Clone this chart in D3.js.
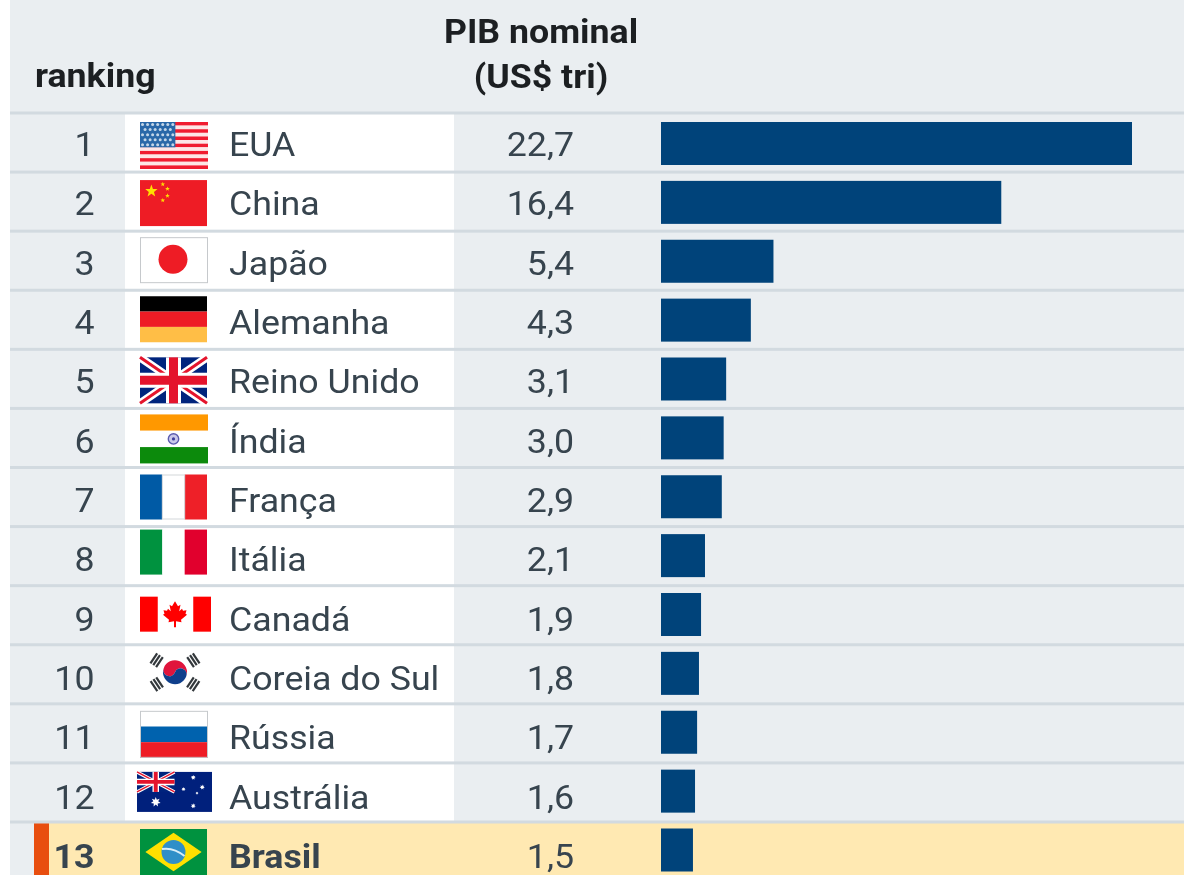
<!DOCTYPE html>
<html>
<head>
<meta charset="utf-8">
<style>
    html, body { margin: 0; padding: 0; background: #ffffff; overflow: hidden; }
    svg { display: block; filter: blur(0.45px); }
    text { font-family: Roboto, sans-serif; }
</style>
<script src="https://cdn.jsdelivr.net/npm/d3@7"></script>
</head>
<body>
<svg id="chart" width="1184" height="875"></svg>
<script>
const ranks = [1, 2, 3, 4, 5, 6, 7, 8, 9, 10, 11, 12, 13];
const countries = ['EUA', 'China', 'Japão', 'Alemanha', 'Reino Unido', 'Índia', 'França', 'Itália', 'Canadá', 'Coreia do Sul', 'Rússia', 'Austrália', 'Brasil'];
// second decimal, labels show one decimal
const gdp = [22.7, 16.4, 5.42, 4.33, 3.14, 3.02, 2.93, 2.12, 1.93, 1.83, 1.74, 1.64, 1.54];
const highlighted = 'Brasil';

const svg = d3.select('#chart');
const width = 1184, height = 875;

const colors = {
    panel: '#eaeef1',
    rule: '#d2dae0',
    bar: '#00437a',
    text: '#37444e',
    head: '#1c1f22',
    hiRow: '#ffe9b2',
    hiMark: '#e84e0f'
};

const rowY = d3.scaleLinear().domain([0, 12]).range([113, 822]);
const barY = d3.scaleLinear().domain([0, 12]).range([122, 828.5]);
const baseY = d3.scaleLinear().domain([0, 12]).range([156, 868]);
const x = d3.scaleLinear().domain([0, 22.7]).range([661, 1132]);
const fmt = v => v.toFixed(1).replace('.', ',');

// the reference is stretched a bit sideways
const rowStretch = 1.083, headStretch = 1.05;

// flag box: x, y offset from row line, width, height
const flagBox = {
    'EUA': [140, 9, 68, 47], 'China': [140, 8, 67, 46], 'Japão': [140, 6, 68, 46],
    'Alemanha': [140, 6, 67, 46], 'Reino Unido': [140, 8, 67, 46], 'Índia': [140, 6, 68, 49],
    'França': [140, 7, 67, 45], 'Itália': [140, 3, 67, 45], 'Canadá': [140, 11, 71, 35],
    'Coreia do Sul': [149, 8, 52, 39], 'Rússia': [140, 7, 68, 47], 'Austrália': [137, 9, 75, 40],
    'Brasil': [140, 7, 67, 46]
};

function starPoints(cx, cy, r, n = 5, inner = 0.42) {
    return d3.range(n * 2).map(i => {
        const a = -Math.PI / 2 + i * Math.PI / n;
        const q = i % 2 ? r * inner : r;
        return [cx + q * Math.cos(a), cy + q * Math.sin(a)].join(',');
    }).join(' ');
}

function rect(g, x0, y0, w, h, fill) {
    return g.append('rect').attr('x', x0).attr('y', y0).attr('width', w).attr('height', h).attr('fill', fill);
}

function bands(g, w, h, list, vertical) {
    list.forEach((c, i) => {
        if (vertical) rect(g, w * i / list.length, 0, w / list.length, h, c);
        else rect(g, 0, h * i / list.length, w, h / list.length, c);
    });
}

function union(g, w, h) {
    rect(g, 0, 0, w, h, '#00247d');
    const line = (x1, y1, x2, y2, c, sw) => g.append('line')
        .attr('x1', x1).attr('y1', y1).attr('x2', x2).attr('y2', y2)
        .attr('stroke', c).attr('stroke-width', sw);
    const k = h / 46;
    line(0, 0, w, h, '#fff', 8 * k);
    line(w, 0, 0, h, '#fff', 8 * k);
    line(0, 0, w, h, '#e4142c', 3 * k);
    line(w, 0, 0, h, '#e4142c', 3 * k);
    line(w / 2, 0, w / 2, h, '#fff', 15 * k);
    line(0, h / 2, w, h / 2, '#fff', 15 * k);
    line(w / 2, 0, w / 2, h, '#e4142c', 9 * k);
    line(0, h / 2, w, h / 2, '#e4142c', 9 * k);
}

const flags = {
    'EUA': (g, w, h) => {
        bands(g, w, h, d3.range(13).map(i => i % 2 ? '#fde6e6' : '#f01c30'));
        rect(g, 0, 0, w * 0.52, h * 7 / 13, '#2a68a8');
        d3.range(5).forEach(r => d3.range(r % 2 ? 6 : 7).forEach(c => {
            g.append('circle')
                .attr('cx', (c + (r % 2 ? 1 : 0.5)) * w * 0.52 / 7)
                .attr('cy', (r + 0.5) * (h * 7 / 13) / 5)
                .attr('r', 1.5).attr('fill', '#c3d6e8');
        }));
    },
    'China': (g, w, h) => {
        rect(g, 0, 0, w, h, '#ee1c25');
        g.append('polygon').attr('points', starPoints(w * 0.17, h * 0.24, 6.5)).attr('fill', '#ffde00');
        [[0.34, 0.09], [0.41, 0.19], [0.41, 0.34], [0.34, 0.44]].forEach(p => {
            g.append('polygon').attr('points', starPoints(w * p[0], h * p[1], 2.4)).attr('fill', '#ffde00');
        });
    },
    'Japão': (g, w, h) => {
        rect(g, 0.5, 0.5, w - 1, h - 1, '#fff').attr('stroke', '#c6c9cc').attr('stroke-width', 1);
        g.append('circle').attr('cx', w / 2 - 1).attr('cy', h / 2 - 1).attr('r', 14.5).attr('fill', '#ee1c25');
    },
    'Alemanha': (g, w, h) => bands(g, w, h, ['#000000', '#ee1c25', '#ffbe46']),
    'Reino Unido': union,
    'Índia': (g, w, h) => {
        bands(g, w, h, ['#ff9800', '#ffffff', '#0c8a0c']);
        g.append('circle').attr('cx', w / 2 - 0.5).attr('cy', h / 2).attr('r', 5.2)
            .attr('fill', '#c9c8ea').attr('stroke', '#5a5aae').attr('stroke-width', 1.4);
        g.append('circle').attr('cx', w / 2 - 0.5).attr('cy', h / 2).attr('r', 1.6).attr('fill', '#3f3f9c');
    },
    'França': (g, w, h) => {
        bands(g, w, h, ['#005aa5', '#ffffff', '#ee2028'], true);
        g.append('rect').attr('x', w / 3).attr('y', 0.5).attr('width', w / 3).attr('height', h - 1)
            .attr('fill', 'none').attr('stroke', '#d3d7da').attr('stroke-width', 1);
    },
    'Itália': (g, w, h) => bands(g, w, h, ['#00923f', '#ffffff', '#e1002d'], true),
    'Canadá': (g, w, h) => {
        rect(g, 0, 0, w, h, '#ffffff');
        rect(g, 0, 0, w * 0.25, h, '#ff0000');
        rect(g, w * 0.75, 0, w * 0.25, h, '#ff0000');
        const half = [[0, -13], [3, -8], [5.5, -9.5], [4.2, -3], [7, -5.5], [8, -3.5], [11.5, -4], [10.5, -0.5], [12, 0.5], [6, 5.5], [6.5, 8], [1, 7.2], [1, 13]];
        const pts = half.concat(half.slice().reverse().map(p => [-p[0], p[1]]));
        g.append('polygon')
            .attr('points', pts.map(p => [w / 2 - 0.5 + p[0], h / 2 + p[1]].join(',')).join(' '))
            .attr('fill', '#ff0000');
    },
    'Coreia do Sul': (g, w, h) => {
        const cx = w / 2, cy = h / 2, r = 12;
        const wave = `A${r / 2},${r / 2} 0 0 0 ${cx},${cy} A${r / 2},${r / 2} 0 0 1 ${cx - r},${cy}Z`;
        g.append('path')
            .attr('d', `M${cx - r},${cy} A${r},${r} 0 0 1 ${cx + r},${cy} ${wave}`)
            .attr('fill', '#e0143c')
            .attr('transform', `rotate(20 ${cx} ${cy})`);
        g.append('path')
            .attr('d', `M${cx - r},${cy} A${r},${r} 0 0 0 ${cx + r},${cy} ${wave}`)
            .attr('fill', '#0f3f8c')
            .attr('transform', `rotate(20 ${cx} ${cy})`);
        [[-1, -1, -56], [1, -1, 56], [-1, 1, 56], [1, 1, -56]].forEach(t => {
            const tg = g.append('g').attr('transform', `translate(${cx + t[0] * 18.3},${cy + t[1] * 12}) rotate(${t[2]})`);
            d3.range(3).forEach(i => rect(tg, -6, -4.6 + i * 3.4, 12, 2.2, '#33383c'));
        });
    },
    'Rússia': (g, w, h) => {
        bands(g, w, h, ['#ffffff', '#0062ae', '#ee1c25']);
        rect(g, 0.5, 0.5, w - 1, h - 1, 'none').attr('stroke', '#c6c9cc').attr('stroke-width', 1);
    },
    'Austrália': (g, w, h) => {
        rect(g, 0, 0, w, h, '#00207c');
        union(g.append('g'), w / 2, h / 2);
        g.append('polygon').attr('points', starPoints(w * 0.25, h * 0.75, 5, 7, 0.5)).attr('fill', '#fff');
        [[0.75, 0.14, 2.6], [0.62, 0.43, 2.2], [0.87, 0.38, 2.6], [0.8, 0.53, 1.6], [0.75, 0.85, 2.6]].forEach(p => {
            g.append('polygon').attr('points', starPoints(w * p[0], h * p[1], p[2], 7, 0.5)).attr('fill', '#fff');
        });
    },
    'Brasil': (g, w, h) => {
        rect(g, 0, 0, w, h, '#00923f');
        g.append('polygon')
            .attr('points', `${w * 0.08},${h / 2} ${w / 2},${h * 0.08} ${w * 0.92},${h / 2} ${w / 2},${h * 0.92}`)
            .attr('fill', '#ffe000');
        g.append('circle').attr('cx', w / 2).attr('cy', h / 2).attr('r', 12).attr('fill', '#2f8fc8');
        g.append('path').attr('d', `M${w / 2 - 11.5},${h / 2 - 3} Q${w / 2},${h / 2 - 5} ${w / 2 + 11},${h / 2 + 4}`)
            .attr('fill', 'none').attr('stroke', '#d8eef8').attr('stroke-width', 2);
    }
};

// backgrounds
svg.append('rect').attr('x', 10).attr('y', 0).attr('width', width - 10).attr('height', height).attr('fill', colors.panel);

const rows = svg.append('g').selectAll('g')
    .data(countries.map((name, i) => ({ name, i, rank: ranks[i], value: gdp[i] })))
    .enter()
    .append('g');

rows.filter(d => d.name !== highlighted)
    .append('rect')
    .attr('x', 125)
    .attr('y', d => rowY(d.i))
    .attr('width', 329)
    .attr('height', rowY(1) - rowY(0))
    .attr('fill', '#ffffff');

const hi = rows.filter(d => d.name === highlighted);
hi.append('rect')
    .attr('x', 49)
    .attr('y', d => rowY(d.i))
    .attr('width', width - 49)
    .attr('height', d => height - rowY(d.i))
    .attr('fill', colors.hiRow);
hi.append('rect')
    .attr('x', 34)
    .attr('y', d => rowY(d.i))
    .attr('width', 15)
    .attr('height', d => height - rowY(d.i))
    .attr('fill', colors.hiMark);

rows.append('rect')
    .attr('x', 10)
    .attr('y', d => rowY(d.i) - 1.5)
    .attr('width', width - 10)
    .attr('height', 3)
    .attr('fill', colors.rule);

rows.append('rect')
    .attr('x', x(0))
    .attr('y', d => barY(d.i))
    .attr('width', d => x(d.value) - x(0))
    .attr('height', 43)
    .attr('fill', colors.bar);

rows.each(function (d) {
    const box = flagBox[d.name];
    const g = d3.select(this).append('g')
        .attr('transform', `translate(${box[0]},${rowY(d.i) + box[1]})`);
    flags[d.name](g, box[2], box[3]);
});

const cell = (px, anchor) => rows.append('text')
    .attr('transform', d => `translate(${px},${baseY(d.i)}) scale(${rowStretch},1)`)
    .attr('text-anchor', anchor)
    .attr('font-size', 33)
    .attr('fill', colors.text);

cell(94.5, 'end')
    .attr('font-weight', d => d.name === highlighted ? 700 : 400)
    .text(d => d.rank);

cell(229, 'start')
    .attr('font-weight', d => d.name === highlighted ? 700 : 400)
    .text(d => d.name);

cell(574, 'end')
    .text(d => fmt(d.value));

// header
const head = svg.append('g')
    .attr('font-size', 34)
    .attr('font-weight', 700)
    .attr('fill', colors.head);
[['ranking', 35, 87, 'start'], ['PIB nominal', 541, 43, 'middle'], ['(US$ tri)', 541, 87.5, 'middle']].forEach(h => {
    head.append('text')
        .attr('transform', `translate(${h[1]},${h[2]}) scale(${headStretch},1)`)
        .attr('text-anchor', h[3])
        .text(h[0]);
});
</script>
</body>
</html>
